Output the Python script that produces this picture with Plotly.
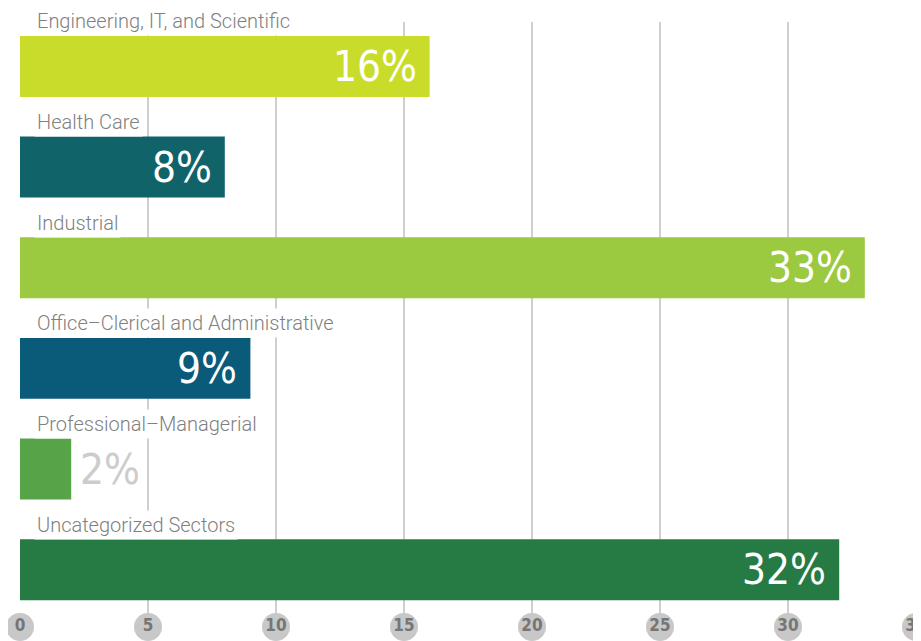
import plotly.graph_objects as go

categories = ["Engineering, IT, and Scientific", "Health Care", "Industrial",
              "Office\u2013Clerical and Administrative", "Professional\u2013Managerial",
              "Uncategorized Sectors"]
values = [16, 8, 33, 9, 2, 32]
value_labels = ["16%", "8%", "33%", "9%", "2%", "32%"]
bar_colors = ["#cadc2a", "#11636a", "#9bc93f", "#0a5b79", "#57a448", "#267b45"]
inside_label = [True, True, True, True, False, True]
x_ticks = [0, 5, 10, 15, 20, 25, 30, 35]

# page body adds an 8px offset; size the figure so it ends at the window edge
W, H = 913, 633
GRID = "#cfcfcf"
LABEL_GREY = "#808080"
VALUE_FONT = "DejaVu Sans Condensed, Liberation Sans Narrow, sans-serif"

fig = go.Figure()
fig.add_trace(go.Bar(
    x=values, y=categories, orientation="h",
    marker=dict(color=bar_colors, line=dict(width=0)),
    hoverinfo="skip", showlegend=False,
))

# tick circles along the bottom
fig.add_trace(go.Scatter(
    x=x_ticks, y=[0] * len(x_ticks), yaxis="y2",
    mode="markers+text",
    marker=dict(size=28, color="#c8c8c8", line=dict(width=0)),
    text=[str(t) for t in x_ticks], textposition="middle center",
    textfont=dict(family=VALUE_FONT, size=17, color="#767676", weight="bold"),
    cliponaxis=False, hoverinfo="skip", showlegend=False,
))

annotations = []
for cat, v, lab, inside in zip(categories, values, value_labels, inside_label):
    # category label above bar
    annotations.append(dict(
        x=0, y=cat, xref="x", yref="y", text=cat, showarrow=False,
        xanchor="left", yanchor="bottom", xshift=14, yshift=30,
        font=dict(family="Roboto, sans-serif", size=20, color=LABEL_GREY, weight=300),
        bgcolor="white", borderpad=2,
    ))
    # value label
    annotations.append(dict(
        x=v, y=cat, xref="x", yref="y", text=lab, showarrow=False,
        xanchor="right" if inside else "left",
        xshift=-11 if inside else 7, yshift=0,
        font=dict(family=VALUE_FONT, size=42,
                  color="white" if inside else "#cccccc"),
    ))

fig.update_layout(
    width=W, height=H,
    margin=dict(l=12, r=5, t=14, b=14),
    paper_bgcolor="white", plot_bgcolor="white",
    bargap=0.394,
    xaxis=dict(range=[0, 35], tickvals=x_ticks, showticklabels=False,
               showgrid=True, gridcolor=GRID, gridwidth=2,
               zeroline=False, showline=False, ticks=""),
    yaxis=dict(type="category", categoryorder="array", categoryarray=categories,
               range=[5.57, -0.442], showticklabels=False, showgrid=False,
               zeroline=False, showline=False, ticks=""),
    yaxis2=dict(overlaying="y", range=[0, 1], visible=False),
    annotations=annotations,
)

fig.write_html("out.html")
